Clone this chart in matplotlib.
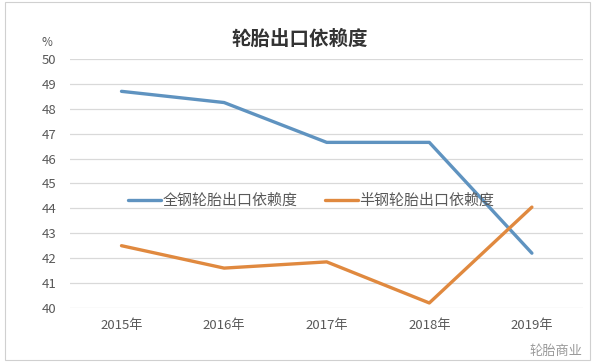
import matplotlib.pyplot as plt
from matplotlib.patches import Rectangle

plt.rcParams["font.family"] = ["Noto Sans CJK SC", "DejaVu Sans"]

years = ["2015年", "2016年", "2017年", "2018年", "2019年"]
all_steel = [48.7, 48.25, 46.65, 46.65, 42.2]
semi_steel = [42.5, 41.6, 41.85, 40.2, 44.05]

BLUE = "#5f93c0"
ORANGE = "#e0893f"
GRID = "#d9d9d9"
TICK = "#595959"

fig = plt.figure(figsize=(6.0, 3.64), dpi=100)
ax = fig.add_axes([0.117, 0.154, 0.855, 0.684])

x = list(range(len(years)))
ax.plot(x, all_steel, color=BLUE, linewidth=2.4, label="全钢轮胎出口依赖度", solid_capstyle="round")
ax.plot(x, semi_steel, color=ORANGE, linewidth=2.4, label="半钢轮胎出口依赖度", solid_capstyle="round")

ax.set_xlim(-0.5, len(years) - 0.5)
ax.set_ylim(40, 50)
ax.set_yticks(range(40, 51))
ax.set_xticks(x)
ax.set_xticklabels(years)
ax.tick_params(axis="both", length=0, labelsize=9.5, colors=TICK)
ax.tick_params(axis="y", pad=10)
ax.tick_params(axis="x", pad=8)
ax.grid(axis="y", color=GRID, linewidth=0.9)
ax.set_axisbelow(True)
for s in ax.spines.values():
    s.set_visible(False)

ax.legend(loc="center", bbox_to_anchor=(0.47, 0.43), ncol=2, frameon=False,
          fontsize=10.8, handlelength=2.2, handletextpad=0.1, columnspacing=1.8,
          labelcolor=TICK)

fig.text(0.078, 0.883, "%", fontsize=8.5, color=TICK, ha="center", va="center")
fig.text(0.5, 0.893, "轮胎出口依赖度", fontsize=14, fontweight="bold",
         color="#333333", ha="center", va="center")
fig.text(0.97, 0.035, "轮胎商业", fontsize=9.5, color="#9a9a9a", ha="right", va="center")

fig.patches.append(Rectangle((0.008, 0.01), 0.975, 0.985, transform=fig.transFigure,
                             fill=False, edgecolor="#d0d0d0", linewidth=0.8))

fig.savefig("out.png", dpi=100, facecolor="white")
